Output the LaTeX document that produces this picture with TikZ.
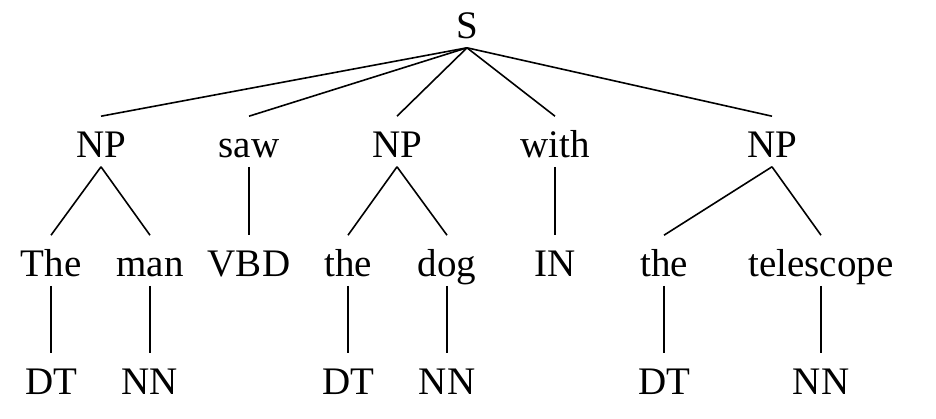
\documentclass[tikz,border=0pt]{standalone}
\usepackage{fontspec}
\setmainfont{LiberationSerif}[Extension=.ttf, UprightFont=*-Regular]
\usetikzlibrary{positioning}

\begin{document}
\begin{tikzpicture}[x=0.5pt, y=-0.5pt, font=\fontsize{19.5}{23}\selectfont, line width=0.8pt,
    tag/.style={inner sep=0pt, anchor=base, text height=20pt, text depth=4.5pt}]
    \useasboundingbox (0,0) rectangle (936,418);

    \node [tag] (s) at (467,38) {S};

    \node [tag] (np1) at (101,157) {NP};
    \node [tag] (saw) at (249,157) {saw};
    \node [tag] (np2) at (397,157) {NP};
    \node [tag] (with) at (555,157) {with};
    \node [tag] (np3) at (772,157) {NP};

    \node [tag] (the1) at (51,276) {The};
    \node [tag] (man) at (150,276) {man};
    \node [tag] (vbd) at (249,276) {VBD};
    \node [tag] (the2) at (348,276) {the};
    \node [tag] (dog) at (447,276) {dog};
    \node [tag] (in) at (555,276) {IN};
    \node [tag] (the3) at (664,276) {the};
    \node [tag] (tel) at (821,276) {telescope};

    \node [tag] (dt1) at (51,394) {DT};
    \node [tag] (nn1) at (150,394) {NN};
    \node [tag] (dt2) at (348,394) {DT};
    \node [tag] (nn2) at (447,394) {NN};
    \node [tag] (dt3) at (664,394) {DT};
    \node [tag] (nn3) at (821,394) {NN};

    \foreach \a/\b in {s/np1, s/saw, s/np2, s/with, s/np3,
                       np1/the1, np1/man, saw/vbd, np2/the2, np2/dog,
                       with/in, np3/the3, np3/tel,
                       the1/dt1, man/nn1, the2/dt2, dog/nn2, the3/dt3, tel/nn3}
        \draw (\a.south) -- (\b.north);
\end{tikzpicture}
\end{document}
